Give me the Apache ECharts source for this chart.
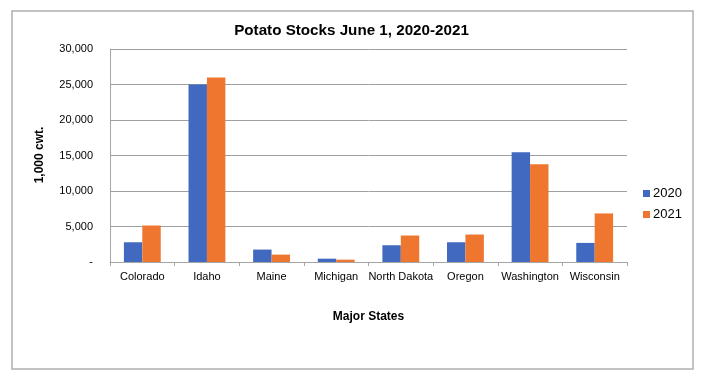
<!DOCTYPE html>
<html><head><meta charset="utf-8">
<script src="https://cdn.jsdelivr.net/npm/echarts@6/dist/echarts.min.js"></script>
<style>html,body{margin:0;padding:0;background:#fff}#c{width:703px;height:381px}</style>
</head><body><div id="c"></div>
<script>
const categories = ['Colorado','Idaho','Maine','Michigan','North Dakota','Oregon','Washington','Wisconsin'];
const series2020 = [2780, 25000, 1750, 470, 2360, 2780, 15470, 2690];
const series2021 = [5140, 26000, 1040, 330, 3730, 3870, 13770, 6840];
const yTicks = [0, 5000, 10000, 15000, 20000, 25000, 30000];

const chart = echarts.init(document.getElementById('c'), null, {renderer:'canvas'});
const font = 'Liberation Sans, Arial, sans-serif';
chart.setOption({
  animation:false,
  textStyle:{fontFamily:font},
  graphic:[{type:'rect',shape:{x:12,y:11,width:681,height:358},style:{fill:'none',stroke:'#b0b0b0',lineWidth:1.5},silent:true},
    {type:'text',style:{text:'1,000 cwt.',font:'bold 12px '+font,fill:'#000',textAlign:'center',textVerticalAlign:'middle'},x:40,y:155,rotation:Math.PI/2,silent:true},
    {type:'text',style:{text:'Potato Stocks June 1, 2020-2021',font:'bold 15.2px '+font,fill:'#000',textAlign:'center',textVerticalAlign:'middle'},x:351.5,y:31,silent:true}],
  legend:{orient:'vertical',left:638,top:182,itemWidth:7,itemHeight:7,itemGap:8,icon:'rect',textStyle:{fontFamily:font,fontSize:13,color:'#000',padding:[0,0,0,-2]},data:['2020','2021']},
  grid:{left:110,top:49,right:76,bottom:119,containLabel:false},
  xAxis:{type:'category',data:categories,name:'Major States',nameLocation:'middle',nameGap:49,
    nameTextStyle:{fontFamily:font,fontSize:12,fontWeight:'bold',color:'#000'},
    axisLine:{lineStyle:{color:'#a6a6a6',width:1}},axisTick:{show:true,lineStyle:{color:'#a6a6a6'},length:4},
    axisLabel:{fontFamily:font,fontSize:11,color:'#000',margin:9,interval:0}},
  yAxis:{type:'value',min:0,max:30000,interval:5000,
    axisLine:{show:true,lineStyle:{color:'#a6a6a6'}},axisTick:{show:false},
    splitLine:{lineStyle:{color:'#a0a0a0',width:1}},
    axisLabel:{fontFamily:font,fontSize:11,color:'#000',margin:17,
      formatter:v=> yTicks.includes(v) ? (v===0?'-':v.toLocaleString('en-US')) : ''}},
  series:[
    {name:'2020',type:'bar',data:series2020,itemStyle:{color:'#4069BF'},barGap:'0%',barCategoryGap:'43%'},
    {name:'2021',type:'bar',data:series2021,itemStyle:{color:'#EE762F'},barGap:'0%',barCategoryGap:'43%'}
  ]
});
</script></body></html>
